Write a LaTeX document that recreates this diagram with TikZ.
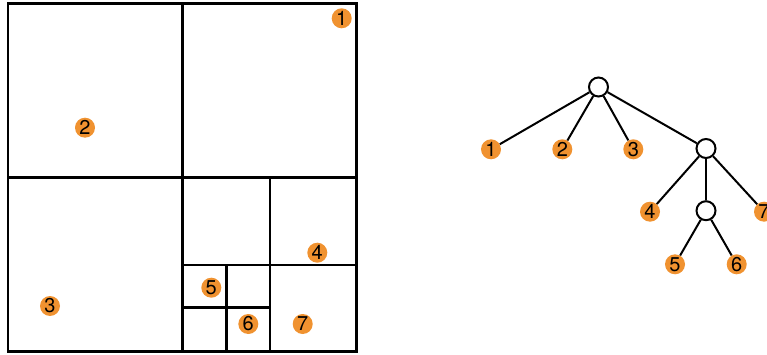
\documentclass[tikz,border=0pt]{standalone}
\usepackage{fontspec}
\setmainfont{TeX Gyre Heros}
\definecolor{dotorange}{RGB}{240,146,48}
\begin{document}
\begin{tikzpicture}[x=1pt,y=-1pt,
  pt/.style={circle,fill=dotorange,inner sep=0pt,minimum size=20pt,font=\fontsize{20}{20}\selectfont,text=black},
  inner/.style={circle,draw=black,fill=white,line width=2pt,inner sep=0pt,minimum size=19pt},
  edge/.style={line width=2pt,black},
  grid/.style={line width=2.5pt,black}]
\useasboundingbox (0,0) rectangle (767,355);
% quadtree subdivision
\draw[grid] (8,3.5) rectangle (356.5,351.5);
\draw[grid] (182.3,3.5) -- (182.3,351.5);
\draw[grid] (8,177.7) -- (356.5,177.7);
\draw[grid] (270,177.7) -- (270,351.5);
\draw[grid] (182.3,265) -- (356.5,265);
\draw[grid] (226.7,265) -- (226.7,351.5);
\draw[grid] (182.3,307.7) -- (270,307.7);
% points
\node[pt] (p1) at (341.7,18.3) {1};
\node[pt] (p2) at (85,127.7) {2};
\node[pt] (p3) at (50,306) {3};
\node[pt] (p4) at (317.3,252.7) {4};
\node[pt] (p5) at (211.3,287.7) {5};
\node[pt] (p6) at (248.3,324) {6};
\node[pt] (p7) at (302.7,324) {7};
% tree
\node[inner] (r) at (598.5,87) {};
\node[inner] (a) at (706,148.5) {};
\node[inner] (b) at (706,210.7) {};
\node[pt] (t1) at (491,149.3) {1};
\node[pt] (t2) at (562.3,149.3) {2};
\node[pt] (t3) at (633.3,149.3) {3};
\node[pt] (t4) at (650,211.7) {4};
\node[pt] (t7) at (764,211.7) {7};
\node[pt] (t5) at (675,264.3) {5};
\node[pt] (t6) at (736.7,264.3) {6};
\draw[edge] (r) -- (t1);
\draw[edge] (r) -- (t2);
\draw[edge] (r) -- (t3);
\draw[edge] (r) -- (a);
\draw[edge] (a) -- (t4);
\draw[edge] (a) -- (b);
\draw[edge] (a) -- (t7);
\draw[edge] (b) -- (t5);
\draw[edge] (b) -- (t6);
\end{tikzpicture}
\end{document}
